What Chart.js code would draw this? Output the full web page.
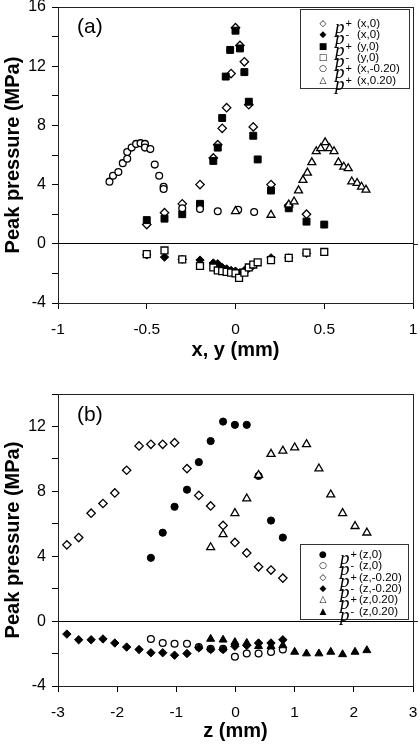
<!DOCTYPE html>
<html>
<head>
<meta charset="utf-8">
<script src="https://cdn.jsdelivr.net/npm/chart.js@4/dist/chart.umd.min.js"></script>
<style>
  body { margin: 0; background: #fff; font-family: "Liberation Sans", Arial, sans-serif; }
  #wrap { position: relative; width: 420px; height: 748px; }
  canvas { position: absolute; left: 0; }
  .tag { position: absolute; font-size: 21px; color: #000; line-height: 1; }
  .legend { position: absolute; border: 1px solid #333; background: #fff; }
  .row { position: absolute; left: 0; height: 16px; line-height: 16px; white-space: nowrap; }
  .mk { position: absolute; font-family: "DejaVu Sans"; font-size: 9px; width: 12px; text-align: center; }
  .p { position: absolute; font-family: "Liberation Serif", serif; font-style: italic; font-size: 19px; }
  .p sup { font-family: "Liberation Sans", Arial; font-style: normal; font-size: 11px; vertical-align: 6px; margin-left: 1px; }
  .lb { position: absolute; font-size: 11.5px; }
</style>
</head>
<body>
<div id="wrap">
  <canvas id="chartA" width="420" height="374" style="top:0"></canvas>
  <canvas id="chartB" width="420" height="374" style="top:374px"></canvas>
  <div class="tag" style="left:77px;top:15px">(a)</div>
  <div class="tag" style="left:77px;top:403px">(b)</div>
  <div class="legend" id="legA" style="left:300px;top:9px;width:108px;height:78px"></div>
  <div class="legend" id="legB" style="left:300px;top:544px;width:107px;height:74px"></div>
</div>
<script>
// panel (a): lateral scans
const xPlusX0 = [-0.5, -0.4, -0.3, -0.2, -0.125, -0.1, -0.075, -0.05, -0.025, 0, 0.025, 0.05, 0.075, 0.1, 0.2, 0.3, 0.4];
const pPlusX0 = [1.3, 2.1, 2.7, 4.0, 5.8, 6.7, 7.8, 9.2, 11.5, 14.6, 13.4, 12.3, 9.4, 7.9, 4.0, 2.6, 2.0];
const xMinusX0 = [-0.5, -0.4, -0.3, -0.2, -0.125, -0.1, -0.075, -0.05, -0.025, 0, 0.025, 0.05, 0.075, 0.1, 0.2, 0.3, 0.4];
const pMinusX0 = [-0.75, -0.9, -1.05, -1.1, -1.3, -1.35, -1.6, -1.7, -1.8, -1.85, -1.95, -1.8, -1.65, -1.45, -0.95, -0.95, -0.65];
const xPlusY0 = [-0.5, -0.4, -0.3, -0.2, -0.125, -0.1, -0.075, -0.055, -0.03, 0, 0.025, 0.05, 0.075, 0.1, 0.125, 0.2, 0.3, 0.4, 0.5];
const pPlusY0 = [1.6, 1.7, 2.0, 2.7, 5.6, 6.5, 8.5, 11.3, 13.1, 14.4, 13.2, 11.6, 9.6, 7.3, 5.7, 3.6, 2.4, 1.5, 1.3];
const xMinusY0 = [-0.5, -0.4, -0.3, -0.2, -0.125, -0.1, -0.075, -0.05, -0.025, 0, 0.02, 0.05, 0.075, 0.1, 0.125, 0.2, 0.3, 0.4, 0.5];
const pMinusY0 = [-0.7, -0.45, -1.05, -1.5, -1.6, -1.8, -1.85, -1.9, -1.95, -2.0, -2.3, -1.95, -1.6, -1.4, -1.25, -1.1, -0.95, -0.6, -0.55];
const xPlusXm20 = [-0.71, -0.69, -0.66, -0.635, -0.61, -0.61, -0.585, -0.56, -0.535, -0.51, -0.51, -0.48, -0.455, -0.43, -0.405, -0.405, -0.3, -0.2, -0.1, 0.015, 0.105];
const pPlusXm20 = [4.2, 4.6, 4.85, 5.45, 5.75, 6.2, 6.5, 6.75, 6.8, 6.75, 6.5, 6.4, 5.35, 4.6, 3.85, 3.7, 2.4, 2.35, 2.2, 2.3, 2.15];
const xPlusXp20 = [0, 0.2, 0.3, 0.33, 0.355, 0.38, 0.405, 0.43, 0.455, 0.48, 0.505, 0.53, 0.555, 0.58, 0.61, 0.635, 0.655, 0.685, 0.71, 0.735];
const pPlusXp20 = [2.2, 1.95, 2.65, 2.85, 3.6, 4.3, 4.8, 5.5, 6.25, 6.45, 6.85, 6.45, 6.25, 5.5, 5.2, 5.1, 4.2, 4.1, 3.85, 3.65];

// panel (b): axial scans
const zAxis = [-1.43, -1.23, -1.03, -0.82, -0.62, -0.42, -0.21, -0.01, 0.19, 0.39, 0.6, 0.8];
const pPlusZ0 = [3.9, 5.45, 7.05, 8.1, 9.8, 11.1, 12.3, 12.1, 12.1, 8.95, 6.2, 5.15];
const pMinusZ0 = [-1.1, -1.35, -1.4, -1.4, -1.6, -1.7, -1.7, -2.2, -2.0, -2.0, -1.9, -1.75];
const zOffM = [-2.85, -2.65, -2.44, -2.24, -2.04, -1.84, -1.63, -1.43, -1.23, -1.03, -0.82, -0.62, -0.42, -0.21, -0.01, 0.19, 0.39, 0.6, 0.8];
const pPlusZm20 = [4.7, 5.15, 6.65, 7.25, 7.9, 9.3, 10.8, 10.9, 10.9, 11.0, 9.4, 7.75, 7.1, 5.9, 4.85, 4.2, 3.35, 3.15, 2.65];
const pMinusZm20 = [-0.8, -1.15, -1.15, -1.1, -1.35, -1.6, -1.75, -1.95, -1.95, -2.1, -2.0, -1.65, -1.75, -1.75, -1.55, -1.5, -1.35, -1.35, -1.15];
const zOffP = [-0.42, -0.21, -0.01, 0.19, 0.39, 0.6, 0.8, 1.0, 1.2, 1.41, 1.61, 1.81, 2.02, 2.22];
const pPlusZp20 = [4.55, 5.35, 6.65, 7.55, 9.0, 10.3, 10.5, 10.7, 10.9, 9.4, 7.8, 6.65, 5.85, 5.45];
const pMinusZp20 = [-1.1, -1.15, -1.3, -1.35, -1.55, -1.55, -1.5, -1.9, -2.0, -2.0, -1.9, -2.05, -1.9, -1.8];

const xTicksA = [-1, -0.5, 0, 0.5, 1];
const xTicksB = [-3, -2, -1, 0, 1, 2, 3];

const legendA = [
  ['\u25C7', '+', '(x,0)'], ['\u25C6', '-', '(x,0)'], ['\u25A0', '+', '(y,0)'],
  ['\u25A1', '-', '(y,0)'], ['\u25CB', '+', '(x,-0.20)'], ['\u25B3', '+', '(x,0.20)']
];
const legendB = [
  ['\u25CF', '+', '(z,0)'], ['\u25CB', '-', '(z,0)'], ['\u25C7', '+', '(z,-0.20)'],
  ['\u25C6', '-', '(z,-0.20)'], ['\u25B3', '+', '(z,0.20)'], ['\u25B2', '-', '(z,0.20)']
];

const pts = (xs, ys) => xs.map((x, i) => ({ x, y: ys[i] }));

const marker = {
  openDiamond: { pointStyle: 'rectRot', pointRadius: 4.2, backgroundColor: '#fff', borderColor: '#000', borderWidth: 1.3 },
  fillDiamond: { pointStyle: 'rectRot', pointRadius: 4.2, backgroundColor: '#000', borderColor: '#000', borderWidth: 1 },
  fillSquare: { pointStyle: 'rect', pointRadius: 4.9, backgroundColor: '#000', borderColor: '#000', borderWidth: 1 },
  openSquare: { pointStyle: 'rect', pointRadius: 4.9, backgroundColor: '#fff', borderColor: '#000', borderWidth: 1.3 },
  openCircle: { pointStyle: 'circle', pointRadius: 3.4, backgroundColor: '#fff', borderColor: '#000', borderWidth: 1.3 },
  fillCircle: { pointStyle: 'circle', pointRadius: 3.6, backgroundColor: '#000', borderColor: '#000', borderWidth: 1 },
  openTriangle: { pointStyle: 'triangle', pointRadius: 4.6, backgroundColor: '#fff', borderColor: '#000', borderWidth: 1.3 },
  fillTriangle: { pointStyle: 'triangle', pointRadius: 4.6, backgroundColor: '#000', borderColor: '#000', borderWidth: 1 }
};

// later series sit on top, like the original plot
function series(list) {
  return list.map((s, i) => Object.assign({ data: s.data, order: list.length - i, pointHoverRadius: 0 }, marker[s.m]));
}

const frame = {
  id: 'frame',
  afterDraw(chart) {
    const { ctx, chartArea: a, scales } = chart;
    const y0 = Math.round(scales.y.getPixelForValue(0)) + 0.5;
    ctx.save();
    ctx.strokeStyle = '#222';
    ctx.lineWidth = 1;
    ctx.strokeRect(Math.round(a.left) + 0.5, Math.round(a.top) + 0.5, Math.round(a.right - a.left), Math.round(a.bottom - a.top));
    ctx.beginPath();
    ctx.moveTo(a.right, y0);
    ctx.lineTo(a.right + 5, y0);
    ctx.stroke();
    ctx.restore();
  }
};

function makeChart(id, datasets, o) {
  return new Chart(document.getElementById(id), {
    type: 'scatter',
    data: { datasets },
    plugins: [frame],
    options: {
      responsive: false,
      animation: false,
      devicePixelRatio: 1,
      layout: { padding: { left: 0, right: 7, top: o.top, bottom: 0 } },
      plugins: { legend: { display: false }, tooltip: { enabled: false } },
      scales: {
        x: {
          type: 'linear', min: o.xMin, max: o.xMax,
          afterBuildTicks: s => { s.ticks = o.xTicks.map(v => ({ value: v })); },
          afterFit: s => { s.height = o.xh; s.paddingLeft = 0; s.paddingRight = 0; },
          ticks: { callback: v => String(v), color: '#000', padding: 11, maxRotation: 0,
                   font: { family: '"Liberation Sans", Arial', size: 15.5 } },
          grid: { drawOnChartArea: false, tickLength: 6, color: '#000', tickColor: '#000' },
          border: { color: '#222', width: 1 },
          title: { display: true, text: o.xTitle, color: '#000', padding: { top: 0, bottom: o.xtPad },
                   font: { family: '"Liberation Sans", Arial', size: 20, weight: 'bold' } }
        },
        y: {
          type: 'linear', min: -4, max: o.yMax,
          ticks: { stepSize: 2, autoSkip: false, color: '#000', padding: 6,
                   font: { family: '"Liberation Sans", Arial', size: 16 },
                   callback: v => (v % 4 === 0 ? String(v) : '') },
          afterFit: s => { s.width = 58; s.paddingTop = 0; s.paddingBottom = 0; },
          grid: { tickLength: 6, tickColor: '#000', color: c => (c.tick && c.tick.value === 0 ? '#000' : 'rgba(0,0,0,0)') },
          border: { color: '#222', width: 1 },
          title: { display: true, text: 'Peak pressure (MPa)', color: '#000', padding: { top: 1, bottom: 0 },
                   font: { family: '"Liberation Sans", Arial', size: 20, weight: 'bold' } }
        }
      }
    }
  });
}

makeChart('chartA', series([
  { data: pts(xPlusX0, pPlusX0), m: 'openDiamond' },
  { data: pts(xMinusX0, pMinusX0), m: 'fillDiamond' },
  { data: pts(xPlusY0, pPlusY0), m: 'fillSquare' },
  { data: pts(xMinusY0, pMinusY0), m: 'openSquare' },
  { data: pts(xPlusXm20, pPlusXm20), m: 'openCircle' },
  { data: pts(xPlusXp20, pPlusXp20), m: 'openTriangle' }
]), { top: 7, xMin: -1, xMax: 1, xTicks: xTicksA, yMax: 16, xh: 71, xtPad: 12, xTitle: 'x, y (mm)' });

makeChart('chartB', series([
  { data: pts(zAxis, pPlusZ0), m: 'fillCircle' },
  { data: pts(zAxis, pMinusZ0), m: 'openCircle' },
  { data: pts(zOffM, pPlusZm20), m: 'openDiamond' },
  { data: pts(zOffM, pMinusZm20), m: 'fillDiamond' },
  { data: pts(zOffP, pPlusZp20), m: 'openTriangle' },
  { data: pts(zOffP, pMinusZp20), m: 'fillTriangle' }
]), { top: 20, xMin: -3, xMax: 3, xTicks: xTicksB, yMax: 14, xh: 62, xtPad: 5, xTitle: 'z (mm)' });

function fillLegend(id, rows, first, pLeft, lLeft) {
  const box = document.getElementById(id);
  rows.forEach((r, i) => {
    const row = document.createElement('div');
    row.className = 'row';
    row.style.top = (first + i * 11.3 - 8) + 'px';
    row.innerHTML = `<span class="mk" style="left:16px">${r[0]}</span>` +
      `<span class="p" style="left:${pLeft}px">p<sup>${r[1]}</sup></span>` +
      `<span class="lb" style="left:${lLeft}px">${r[2]}</span>`;
    box.appendChild(row);
  });
}
fillLegend('legA', legendA, 13, 34, 56);
fillLegend('legB', legendB, 9, 39, 58);
</script>
</body>
</html>
